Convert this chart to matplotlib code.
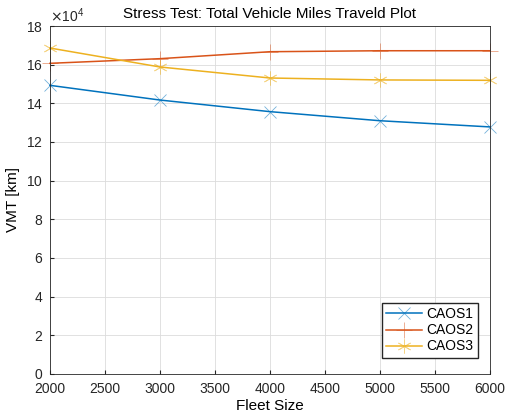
import matplotlib.pyplot as plt

plt.rcParams['font.family'] = ['Liberation Sans', 'DejaVu Sans']

fleet = [2000, 3000, 4000, 5000, 6000]
caos1 = [14.93e4, 14.17e4, 13.57e4, 13.10e4, 12.78e4]
caos2 = [16.07e4, 16.31e4, 16.67e4, 16.72e4, 16.72e4]
caos3 = [16.86e4, 15.88e4, 15.31e4, 15.21e4, 15.19e4]

fig = plt.figure(figsize=(5.05, 4.16), dpi=100)
ax = fig.add_axes([0.099, 0.101, 0.871, 0.8365])

ax.plot(fleet, caos1, color="#0072BD", marker="x", markersize=8, mew=0.6, mec=(0, 0.447, 0.741, 0.55),
        lw=1.1, label="CAOS1", clip_on=False)
ax.plot(fleet, caos2, color="#D95319", marker="+", markersize=11, mew=0.6, mec=(0.85, 0.325, 0.098, 0.55),
        lw=1.1, label="CAOS2", clip_on=False)
ax.plot(fleet, caos3, color="#EDB120", marker=(6, 2, 0), markersize=10, mew=0.6, mec=(0.929, 0.694, 0.125, 0.55),
        lw=1.1, label="CAOS3", clip_on=False)

ax.set_xlim(2000, 6000)
ax.set_ylim(0, 18e4)
ax.set_xticks(range(2000, 6001, 500))
ax.set_yticks([i * 2e4 for i in range(10)])
ax.ticklabel_format(axis="y", style="sci", scilimits=(4, 4), useMathText=True)
ax.grid(True, color="#dcdcdc", lw=0.6)
ax.set_axisbelow(True)
ax.tick_params(direction="in", labelsize=10, length=3, colors="#262626")
ax.tick_params(axis="x", pad=6)
ax.tick_params(axis="y", pad=5)
for s in ax.spines.values():
    s.set_color("#262626")
    s.set_linewidth(0.6)
ax.set_xlabel("Fleet Size", fontsize=11, labelpad=2)
ax.set_ylabel("VMT [km]", fontsize=11)
ax.set_title("Stress Test: Total Vehicle Miles Traveld Plot", fontsize=11)
ax.legend(loc="lower right", fontsize=10, fancybox=False, edgecolor="#262626", framealpha=1,
          borderpad=0.3, labelspacing=0.15, handlelength=2.6, handletextpad=0.3,
          borderaxespad=0, bbox_to_anchor=(0.972, 0.047))

plt.savefig("out.png")
